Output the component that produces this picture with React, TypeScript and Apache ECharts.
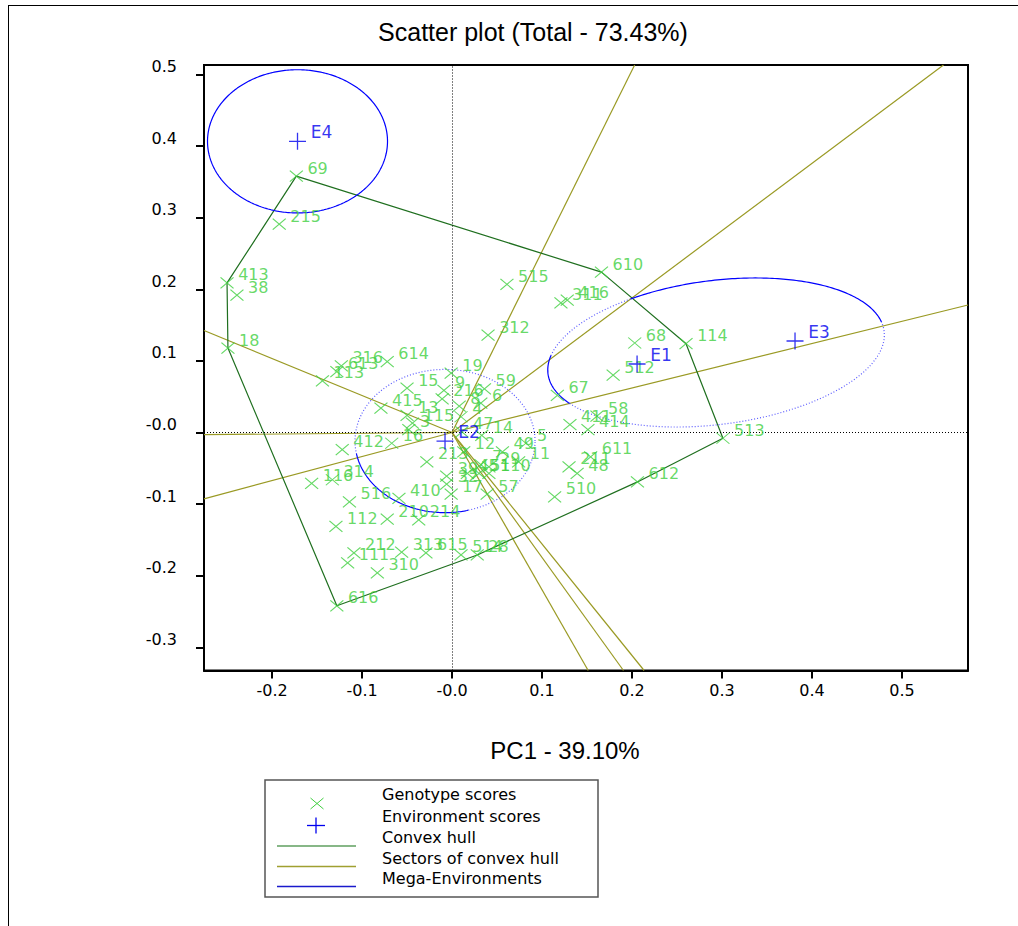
import React, { useEffect, useRef } from "react";
import * as echarts from "echarts";

const TITLE = "Scatter plot (Total - 73.43%)";
const X_NAME = "PC1 - 39.10%";

const xTickValues = [-0.2, -0.1, 0, 0.1, 0.2, 0.3, 0.4, 0.5];
const xTickLabels = ["-0.2", "-0.1", "-0.0", "0.1", "0.2", "0.3", "0.4", "0.5"];
const yTickValues = [-0.3, -0.2, -0.1, 0, 0.1, 0.2, 0.3, 0.4, 0.5];
const yTickLabels = ["-0.3", "-0.2", "-0.1", "-0.0", "0.1", "0.2", "0.3", "0.4", "0.5"];

const X_MIN = -0.2756;
const X_MAX = 0.5733;
const Y_MIN = -0.3324;
const Y_MAX = 0.5133;

const genotypeNames = [
  "69", "215", "413", "38", "18", "316", "613", "113", "614", "15",
  "415", "13", "115", "3", "16", "412", "213", "116", "314", "516",
  "410", "210", "214", "112", "212", "111", "310", "313", "615", "514",
  "28", "616", "19", "9", "216", "8", "6", "59", "4", "47",
  "14", "12", "49", "5", "11", "7", "29", "45", "51", "110",
  "39", "32", "17", "57", "610", "515", "416", "311", "312", "68",
  "114", "512", "67", "58", "411", "414", "611", "211", "48", "612",
  "510", "513",
];
const genotypeX = [
  -0.173, -0.192, -0.25, -0.239, -0.249, -0.123, -0.128, -0.144, -0.072, -0.05,
  -0.079, -0.05, -0.044, -0.048, -0.067, -0.122, -0.028, -0.156, -0.133, -0.114,
  -0.059, -0.072, -0.037, -0.129, -0.109, -0.116, -0.083, -0.056, -0.029, 0.01,
  0.028, -0.128, -0.001, -0.009, -0.011, 0.008, 0.032, 0.036, 0.01, 0.011,
  0.033, 0.013, 0.056, 0.082, 0.074, 0.032, 0.041, 0.017, 0.03, 0.041,
  -0.006, -0.006, -0.001, 0.039, 0.166, 0.061, 0.128, 0.121, 0.04, 0.203,
  0.26, 0.179, 0.117, 0.161, 0.131, 0.151, 0.154, 0.13, 0.139, 0.206,
  0.114, 0.301,
];
const genotypeY = [
  0.358, 0.291, 0.209, 0.192, 0.118, 0.093, 0.085, 0.072, 0.099, 0.062,
  0.034, 0.024, 0.013, 0.004, -0.015, -0.024, -0.041, -0.071, -0.066, -0.097,
  -0.092, -0.121, -0.122, -0.131, -0.168, -0.182, -0.196, -0.167, -0.168, -0.171,
  -0.171, -0.242, 0.083, 0.059, 0.047, 0.037, 0.041, 0.061, 0.022, 0.001,
  -0.004, -0.027, -0.027, -0.015, -0.041, -0.045, -0.048, -0.057, -0.057, -0.057,
  -0.061, -0.072, -0.086, -0.086, 0.224, 0.207, 0.185, 0.181, 0.136, 0.125,
  0.124, 0.08, 0.052, 0.023, 0.011, 0.004, -0.034, -0.048, -0.057, -0.069,
  -0.09, -0.008,
];

const envNames = ["E1", "E2", "E3", "E4"];
const envX = [0.2056, -0.0078, 0.3811, -0.1717];
const envY = [0.0957, -0.0119, 0.1278, 0.4067];

const hullVertices = ["69", "610", "114", "513", "612", "28", "616", "18", "413"];

const megaEnvGroups = [["E4"], ["E2"], ["E1", "E3"]];
const megaRadius = 0.1;
const megaSolidArcs = [[[0, 360]], [[190, 285]], [[5, 115], [163, 204]]];

const legendLabels = [
  "Genotype scores",
  "Environment scores",
  "Convex hull",
  "Sectors of convex hull",
  "Mega-Environments",
];

const GREEN = "#3fcf3f";
const BLUE = "#0000ee";
const HULL = "#1f6f1f";
const OLIVE = "#9a9a24";
const FONT = "'DejaVu Sans', sans-serif";

function fmt(vals: number[], labels: string[]) {
  return (v: number) => {
    const i = vals.findIndex((t) => Math.abs(t - v) < 1e-6);
    return i >= 0 ? labels[i] : "";
  };
}

function genoPoint(name: string): [number, number] {
  const i = genotypeNames.indexOf(name);
  return [genotypeX[i], genotypeY[i]];
}

function envPoint(name: string): [number, number] {
  const i = envNames.indexOf(name);
  return [envX[i], envY[i]];
}

function rayToBorder(dx: number, dy: number): [number, number] {
  let t = Infinity;
  if (dx > 0) t = Math.min(t, X_MAX / dx);
  if (dx < 0) t = Math.min(t, X_MIN / dx);
  if (dy > 0) t = Math.min(t, Y_MAX / dy);
  if (dy < 0) t = Math.min(t, Y_MIN / dy);
  return [dx * t, dy * t];
}

function buildOption() {
  const series: any[] = [];

  // sector lines: perpendiculars from origin to each hull edge
  const hull = hullVertices.map(genoPoint);
  for (let i = 0; i < hull.length; i++) {
    const p1 = hull[i];
    const p2 = hull[(i + 1) % hull.length];
    const d = [p2[0] - p1[0], p2[1] - p1[1]];
    const k = -(p1[0] * d[0] + p1[1] * d[1]) / (d[0] * d[0] + d[1] * d[1]);
    const foot = [p1[0] + k * d[0], p1[1] + k * d[1]];
    const end = rayToBorder(foot[0], foot[1]);
    series.push({
      type: "line",
      data: [[0, 0], end],
      symbol: "none",
      silent: true,
      z: 2,
      lineStyle: { color: OLIVE, width: 1.2 },
      ...(i === 0
        ? {
            markLine: {
              silent: true,
              symbol: "none",
              label: { show: false },
              lineStyle: { color: "#000", type: [1, 2], width: 1 },
              data: [{ xAxis: 0 }, { yAxis: 0 }],
            },
          }
        : {}),
    });
  }

  // convex hull
  series.push({
    type: "line",
    data: [...hull, hull[0]],
    symbol: "none",
    silent: true,
    z: 3,
    lineStyle: { color: HULL, width: 1.2 },
  });

  // mega-environment ellipses
  megaEnvGroups.forEach((grp, gi) => {
    const pts = grp.map(envPoint);
    let cx: number, cy: number, a: number, b: number, th: number;
    if (pts.length === 1) {
      cx = pts[0][0];
      cy = pts[0][1];
      a = megaRadius;
      b = megaRadius;
      th = 0;
    } else {
      cx = (pts[0][0] + pts[1][0]) / 2;
      cy = (pts[0][1] + pts[1][1]) / 2;
      const dx = pts[1][0] - pts[0][0];
      const dy = pts[1][1] - pts[0][1];
      a = Math.sqrt(dx * dx + dy * dy) / 2 + megaRadius;
      b = megaRadius;
      th = Math.atan2(dy, dx);
    }
    const arc = (t0: number, t1: number) => {
      const out: number[][] = [];
      for (let t = t0; t <= t1 + 1e-9; t += 1) {
        const r = (t * Math.PI) / 180;
        const ex = a * Math.cos(r);
        const ey = b * Math.sin(r);
        out.push([cx + ex * Math.cos(th) - ey * Math.sin(th), cy + ex * Math.sin(th) + ey * Math.cos(th)]);
      }
      return out;
    };
    const solids = megaSolidArcs[gi];
    const dotted: number[][] = [];
    let prev = 0;
    solids.forEach(([s, e]) => {
      if (s > prev) dotted.push([prev, s]);
      prev = e;
    });
    if (prev < 360) dotted.push([prev, 360]);
    solids.forEach(([s, e]) => {
      series.push({
        type: "line",
        data: arc(s, e),
        symbol: "none",
        silent: true,
        z: 4,
        lineStyle: { color: "#0000ff", width: 1.2 },
      });
    });
    dotted.forEach(([s, e]) => {
      series.push({
        type: "line",
        data: arc(s, e),
        symbol: "none",
        silent: true,
        z: 4,
        lineStyle: { color: "#5a5aff", width: 1.2, type: [1, 2] },
      });
    });
  });

  // genotype scores
  series.push({
    type: "scatter",
    z: 5,
    symbol: "path://M0 0L10 10M10 0L0 10",
    symbolSize: [13, 11],
    itemStyle: { color: "rgba(0,0,0,0)", borderColor: GREEN, borderWidth: 1.1 },
    label: {
      show: true,
      position: "right",
      distance: 4,
      offset: [0, -8],
      formatter: "{b}",
      color: GREEN,
      fontFamily: FONT,
      fontSize: 16,
    },
    data: genotypeNames.map((n, i) => ({ name: n, value: [genotypeX[i], genotypeY[i]] })),
  });

  // environment scores
  series.push({
    type: "scatter",
    z: 6,
    symbol: "path://M5 0L5 10M0 5L10 5",
    symbolSize: 17,
    itemStyle: { color: "rgba(0,0,0,0)", borderColor: BLUE, borderWidth: 1.3 },
    label: {
      show: true,
      position: "right",
      distance: 4,
      offset: [0, -9],
      formatter: "{b}",
      color: BLUE,
      fontFamily: FONT,
      fontSize: 17,
    },
    data: envNames.map((n, i) => ({ name: n, value: [envX[i], envY[i]] })),
  });

  const legendX = 265;
  const legendY = 780;
  const textYs = [794, 816, 837, 858, 878];
  const graphic: any[] = [
    { type: "line", shape: { x1: 8.5, y1: 5, x2: 8.5, y2: 926 }, style: { stroke: "#000", lineWidth: 1 } },
    { type: "line", shape: { x1: 8.5, y1: 5.5, x2: 1018, y2: 5.5 }, style: { stroke: "#000", lineWidth: 1 } },
    {
      type: "text",
      x: 533,
      y: 32,
      style: { text: TITLE, fontFamily: "'Liberation Sans', Arial, sans-serif", fontSize: 25, fill: "#000", align: "center", verticalAlign: "middle" },
    },
    {
      type: "text",
      x: 565,
      y: 750,
      style: { text: X_NAME, fontFamily: "'Liberation Sans', Arial, sans-serif", fontSize: 24, fill: "#000", align: "center", verticalAlign: "middle" },
    },
    {
      type: "rect",
      shape: { x: legendX, y: legendY, width: 333, height: 117 },
      style: { fill: "#fff", stroke: "#555", lineWidth: 1.5 },
    },
    ...legendLabels.map((t, i) => ({
      type: "text",
      x: 382,
      y: textYs[i],
      style: { text: t, fontFamily: FONT, fontSize: 16, fill: "#000", verticalAlign: "middle" },
    })),
    { type: "line", shape: { x1: 310.5, y1: 798, x2: 323.5, y2: 809 }, style: { stroke: GREEN, lineWidth: 1 } },
    { type: "line", shape: { x1: 323.5, y1: 798, x2: 310.5, y2: 809 }, style: { stroke: GREEN, lineWidth: 1 } },
    { type: "line", shape: { x1: 307, y1: 825.5, x2: 325, y2: 825.5 }, style: { stroke: BLUE, lineWidth: 1.3 } },
    { type: "line", shape: { x1: 316, y1: 817.5, x2: 316, y2: 833.5 }, style: { stroke: BLUE, lineWidth: 1.3 } },
    { type: "line", shape: { x1: 277, y1: 846, x2: 356, y2: 846 }, style: { stroke: "#5f9f5f", lineWidth: 1.5 } },
    { type: "line", shape: { x1: 277, y1: 866.5, x2: 356, y2: 866.5 }, style: { stroke: "#a0a030", lineWidth: 1.5 } },
    { type: "line", shape: { x1: 277, y1: 886.5, x2: 356, y2: 886.5 }, style: { stroke: "#1a1acc", lineWidth: 1.5 } },
  ];

  return {
    animation: false,
    backgroundColor: "#fff",
    grid: {
      left: 204,
      top: 65,
      width: 764,
      height: 605.5,
      show: true,
      borderColor: "#000",
      borderWidth: 2,
      backgroundColor: "rgba(0,0,0,0)",
    },
    xAxis: {
      type: "value",
      min: X_MIN,
      max: X_MAX,
      splitLine: { show: false },
      axisLine: { show: true, onZero: false, lineStyle: { color: "#000", width: 2 } },
      axisTick: { show: true, customValues: xTickValues, length: 8, lineStyle: { color: "#000", width: 2 } },
      axisLabel: {
        customValues: xTickValues,
        formatter: fmt(xTickValues, xTickLabels),
        color: "#000",
        fontFamily: FONT,
        fontSize: 16,
        margin: 12,
      },
    },
    yAxis: {
      type: "value",
      min: Y_MIN,
      max: Y_MAX,
      splitLine: { show: false },
      axisLine: { show: true, onZero: false, lineStyle: { color: "#000", width: 2 } },
      axisTick: { show: true, customValues: yTickValues, length: 8, lineStyle: { color: "#000", width: 2 } },
      axisLabel: {
        customValues: yTickValues,
        formatter: fmt(yTickValues, yTickLabels),
        color: "#000",
        fontFamily: FONT,
        fontSize: 16,
        margin: 27,
        verticalAlign: "bottom",
      },
    },
    graphic,
    series,
  };
}

export default function App() {
  const ref = useRef<HTMLDivElement>(null);
  useEffect(() => {
    const chart = echarts.init(ref.current as HTMLDivElement, null, { renderer: "svg" });
    chart.setOption(buildOption() as any);
    return () => chart.dispose();
  }, []);
  return (
    <div
      ref={ref}
      style={{ position: "fixed", left: 0, top: 0, width: 1018, height: 926, background: "#fff" }}
    />
  );
}
